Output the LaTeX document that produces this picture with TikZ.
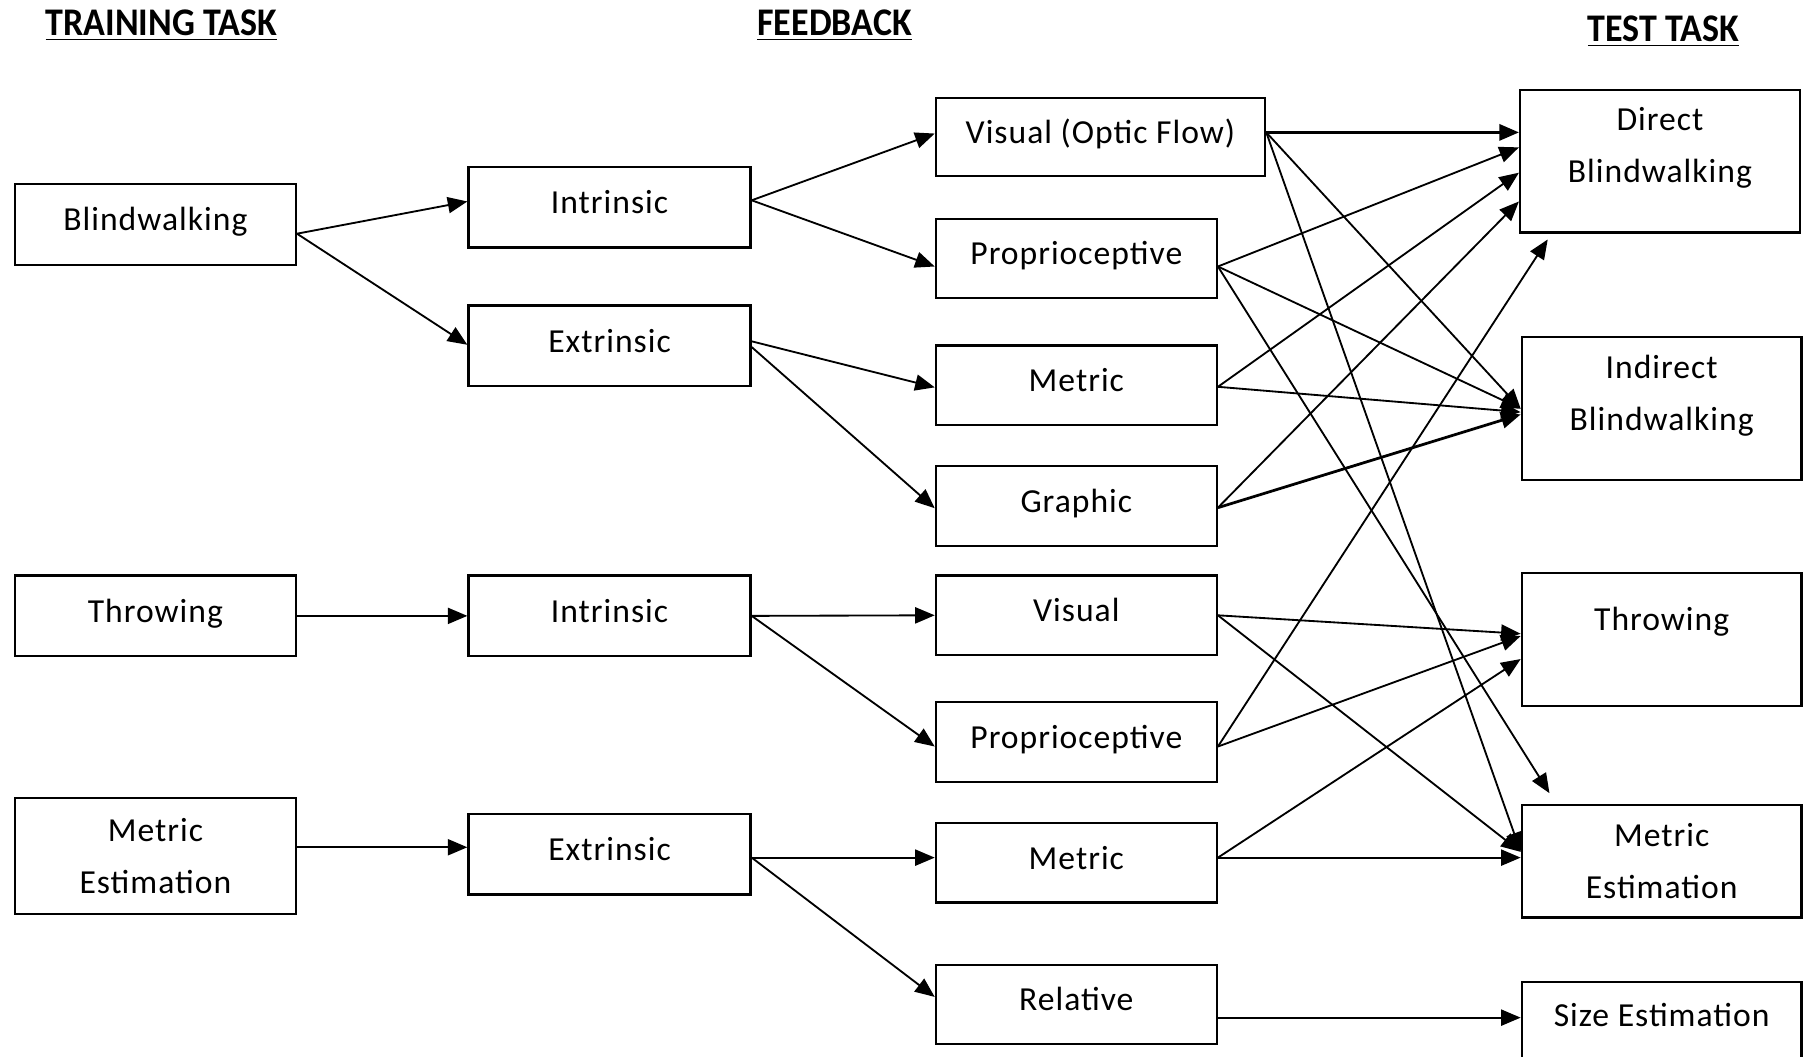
\documentclass[tikz,border=0pt]{standalone}
\usepackage{fontspec}
\setmainfont{Carlito}[LetterSpace=3]
\newfontfamily\hdfont{Carlito}[FakeStretch=0.92]
\usetikzlibrary{arrows.meta}
\tikzset{
  tbox/.style={draw, line width=1pt, inner sep=0pt, align=center, minimum width=122pt, minimum height=35pt, font=\fontsize{14.6pt}{22.5pt}\selectfont},
  sline/.style={tbox, text height=10pt, text depth=#1}, sline/.default=4.5pt,
  hdr/.style={inner sep=0pt, font=\hdfont\bfseries\fontsize{17pt}{20pt}\selectfont},
  arr/.style={line width=0.8pt, -{Triangle[length=8.5pt,width=7pt]}},
  heavy/.style={arr, line width=1.2pt}
}

\begin{document}
\begin{tikzpicture}[x=0.5pt, y=-0.5pt]
        \useasboundingbox (0,0) rectangle (1568,918);
        \node[hdr] (htrain) at (140,22) {\underline{TRAINING TASK}};
        \node[hdr] (hfeed) at (725,22) {\underline{FEEDBACK}};
        \node[hdr] (htest) at (1445,27) {\underline{TEST TASK}};

        \node[sline] (bw) at (135,195) {Blindwalking};
        \node[sline] (thr) at (135,535) {Throwing};
        \node[tbox, minimum height=50.5pt] (me) at (135,743.5) {Metric\\Estimation};

        \node[sline, minimum width=122.5pt] (in1) at (529.5,180) {Intrinsic};
        \node[sline, minimum width=122.5pt] (ex1) at (529.5,300.5) {Extrinsic};
        \node[sline, minimum width=122.5pt] (in2) at (529.5,535) {Intrinsic};
        \node[sline, minimum width=122.5pt] (ex2) at (529.5,742) {Extrinsic};

        \node[sline, minimum width=143pt, minimum height=34pt] (vof) at (956,119) {Visual (Optic Flow)};
        \node[sline, minimum height=34.5pt] (pr1) at (935,224.5) {Proprioceptive};
        \node[sline, minimum height=34.5pt] (me1) at (935,334.5) {Metric};
        \node[sline, minimum height=34.5pt] (gr) at (935,439.5) {Graphic};
        \node[sline, minimum height=34.5pt] (vi2) at (935,534.5) {Visual};
        \node[sline, minimum height=34.5pt] (pr2) at (935,644.5) {Proprioceptive};
        \node[sline, minimum height=34.5pt] (me2) at (935,749.5) {Metric};
        \node[sline, minimum height=34.5pt] (rel) at (935,872.5) {Relative};

        \node[tbox, minimum width=121.5pt, minimum height=62pt, text depth=14pt] (db) at (1442,140) {Direct\\Blindwalking};
        \node[tbox, minimum width=121.5pt, minimum height=62pt, text depth=14pt] (ib) at (1443.5,355) {Indirect\\Blindwalking};
        \node[sline=18pt, minimum width=121.5pt, minimum height=57.5pt] (tt) at (1443.5,555.5) {Throwing};
        \node[tbox, minimum width=121.5pt, minimum height=49pt] (mt) at (1443.5,748) {Metric\\Estimation};
        \node[sline=11.3pt, minimum width=121.5pt, minimum height=40pt] (se) at (1443.5,893) {Size Estimation};

        \draw[arr] ([shift={(0,8)}]bw.east) -- ([shift={(0,-5)}]in1.west);
        \draw[arr] ([shift={(0,8)}]bw.east) -- ([shift={(0,-1)}]ex1.west);
        \draw[arr] ([shift={(0,-6)}]in1.east) -- ([shift={(0,-3)}]vof.west);
        \draw[arr] ([shift={(0,-6)}]in1.east) -- ([shift={(0,7)}]pr1.west);
        \draw[arr] ([shift={(0,-4)}]ex1.east) -- ([shift={(0,2)}]me1.west);
        \draw[arr] ([shift={(0,1)}]ex1.east) -- ([shift={(0,2)}]gr.west);
        \draw[arr] (thr.east) -- (in2.west);
        \draw[arr] (in2.east) -- (vi2.west);
        \draw[arr] (in2.east) -- ([shift={(0,4)}]pr2.west);
        \draw[arr] ([shift={(0,-7.5)}]me.east) -- ([shift={(0,-6)}]ex2.west);
        \draw[arr] ([shift={(0,3)}]ex2.east) -- ([shift={(0,-4.5)}]me2.west);
        \draw[arr] ([shift={(0,3)}]ex2.east) -- ([shift={(0,-6.5)}]rel.west);

        \draw[heavy] ([shift={(0,-4)}]vof.east) -- ([shift={(0,-25)}]db.west);
        \draw[arr] ([shift={(0,-4)}]vof.east) -- (ib.west);
        \draw[arr] ([shift={(0,-4)}]vof.east) -- ([shift={(0,-8)}]mt.west);
        \draw[arr] ([shift={(0,7)}]pr1.east) -- ([shift={(0,-12)}]db.west);
        \draw[arr] ([shift={(0,7)}]pr1.east) -- (ib.west);
        \draw[arr] ([shift={(0,7)}]pr1.east) -- ([shift={(25,-9)}]mt.north west);
        \draw[arr] ([shift={(0,1.5)}]me1.east) -- ([shift={(0,10)}]db.west);
        \draw[arr] ([shift={(0,1.5)}]me1.east) -- ([shift={(0,3)}]ib.west);
        \draw[arr] ([shift={(0,1.5)}]gr.east) -- ([shift={(0,35)}]db.west);
        \draw[heavy] ([shift={(0,1.5)}]gr.east) -- ([shift={(0,5)}]ib.west);
        \draw[arr] (vi2.east) -- ([shift={(0,-5)}]tt.west);
        \draw[arr] (vi2.east) -- ([shift={(0,-8)}]mt.west);
        \draw[arr] ([shift={(0,4)}]pr2.east) -- ([shift={(25,5)}]db.south west);
        \draw[arr] ([shift={(0,4)}]pr2.east) -- ([shift={(0,-3)}]tt.west);
        \draw[arr] ([shift={(0,-4.5)}]me2.east) -- ([shift={(0,17)}]tt.west);
        \draw[arr] ([shift={(0,-4.5)}]me2.east) -- ([shift={(0,-3)}]mt.west);
        \draw[arr] ([shift={(0,11.5)}]rel.east) -- ([shift={(0,-9)}]se.west);
    \end{tikzpicture}
\end{document}
